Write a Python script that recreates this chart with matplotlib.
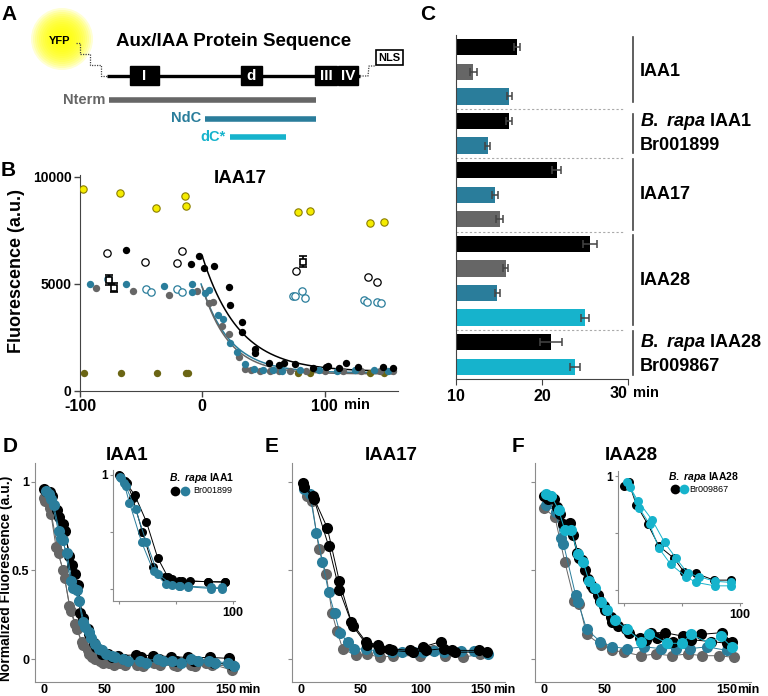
import matplotlib
matplotlib.use('Agg')
import matplotlib.pyplot as plt
from matplotlib.patches import Rectangle, Circle
import numpy as np

plt.rcParams['font.family'] = ['Liberation Sans', 'DejaVu Sans']
plt.rcParams['mathtext.fontset'] = 'custom'
plt.rcParams['mathtext.it'] = 'Liberation Sans:italic:bold'
plt.rcParams['mathtext.rm'] = 'Liberation Sans:bold'

BLACK = '#000000'
GRAY = '#666666'
TEAL = '#2a7d9b'
CYAN = '#16b3cc'
YELLOW = '#f5ec00'
OLIVE = '#6b6514'

# ---------------- panel B data (IAA17, raw fluorescence) ----------------
b_yfp_t = [-97.5, -67.5, -38, -14.5, -13, 78.4, 87.7, 137, 148.6]
b_yfp_f = [9425, 9267, 8536, 9112, 8645, 8350, 8411, 7850, 7912]
b_bg_t = [-96.7, -66.6, -37, -13.4, -12, 78, 88, 137, 148.6]
b_bg_f = [850, 850, 850, 850, 850, 860, 860, 860, 860]
b_open_k_t = [-77.6, -47, -21, -16.7, 76.2, 135.8, 143]
b_open_k_f = [6433, 6013, 5966, 6557, 5607, 5342, 5107]
b_open_c_t = [-77, -46, -42, -21, -16.7, 74, 76, 81.7, 84, 132.6, 134.8, 143, 146]
b_open_c_f = [5234, 4766, 4610, 4766, 4640, 4440, 4440, 4673, 4330, 4237, 4143, 4174, 4127]
b_sq_t = [-76, -72, 82]
b_sq_f = [5187, 4828, 6043]
b_sq_err = [250, 200, 250]
b_k_t = [-62.6, -9.3, -3, 1.4, 9.8, 21.6, 22.7, 32.8, 32.2, 43.2, 43.2, 54.4, 62.6,
         67, 76, 90.4, 101, 102.7, 111.7, 117.8, 127, 148, 156]
b_k_f = [6590, 5920, 6323, 5733, 5857, 4875, 4018, 3240, 2741, 1963, 1760, 1292, 1215,
         1292, 1247, 1060, 1137, 1182, 1060, 1292, 1137, 1110, 1060]
b_c_t = [-92, -62, -31.4, -8.5, -8.5, 2.5, 5.7, 12.6, 17.2, 23, 28, 35, 42, 50, 58,
         65, 80, 95, 110, 125, 140, 152]
b_c_f = [5000, 5000, 4906, 5000, 4640, 4563, 4720, 3551, 3350, 2228, 1838, 1262, 1050,
         980, 960, 950, 970, 960, 950, 980, 960, 950]
b_g_t = [-86.6, -57, -27.6, -4, 5.2, 8.4, 16, 21.6, 29.8, 35, 40, 47, 55, 63, 72, 85,
         100, 115, 130, 145, 156]
b_g_f = [4828, 4672, 4486, 4672, 4096, 4170, 3037, 2648, 1602, 1014, 960, 940, 930,
         950, 920, 940, 930, 920, 950, 930, 940]
# one-phase decay fits: start time, start value, plateau, tau
fit_t0 = [0, -1, 0]
fit_y0 = [6300, 5000, 4850]
fit_plateau = [900, 850, 800]
fit_tau = [30, 23.5, 22]
fit_color = [BLACK, TEAL, GRAY]

# ---------------- panel C data (half-lives, min) ----------------
c_vals = [17.05, 12.0, 16.2, 16.2, 13.7, 21.7, 14.5, 15.1, 25.6, 15.8, 14.8, 25.0, 21.05, 23.8]
c_errs = [0.35, 0.4, 0.3, 0.35, 0.3, 0.5, 0.35, 0.4, 0.8, 0.3, 0.3, 0.5, 1.3, 0.6]
c_cols = [BLACK, GRAY, TEAL, BLACK, TEAL, BLACK, TEAL, GRAY, BLACK, GRAY, TEAL, CYAN, BLACK, CYAN]
c_group_span = [(-0.42, 2.22), (2.7, 4.3), (4.55, 7.44), (7.64, 11.3), (11.53, 13.33)]
c_separators = [2.5, 4.5, 7.5, 11.5]

# ---------------- panel D (IAA1) ----------------
d_k1_t = [0, 5, 11, 16, 21, 26, 30, 36, 41, 47, 53, 61, 76, 90, 105, 119, 137, 153]
d_k1_v = [0.96, 0.94, 0.84, 0.76, 0.58, 0.48, 0.26, 0.17, 0.09, 0.05, 0.03, 0.02, 0.025, 0.02, 0.015, 0.01, 0.01, 0.005]
d_k2_t = [2, 7, 12, 17, 23, 28, 32, 37, 43, 48, 56, 66, 80, 95, 109, 124, 140, 155]
d_k2_v = [0.95, 0.92, 0.80, 0.72, 0.53, 0.42, 0.23, 0.14, 0.07, 0.03, 0.01, 0.0, 0.01, 0.0, -0.01, -0.01, -0.02, -0.03]
d_c1_t = [2, 6, 12, 16, 22, 27, 32, 37, 42, 48, 56, 65, 79, 94, 106, 121, 136, 152]
d_c1_v = [0.95, 0.90, 0.72, 0.67, 0.44, 0.39, 0.21, 0.155, 0.085, 0.05, 0.02, 0.0, -0.01, 0.0, -0.01, 0.0, -0.01, -0.02]
d_c2_t = [4, 8, 14, 19, 24, 29, 34, 39, 45, 51, 59, 69, 84, 98, 113, 127, 141, 157]
d_c2_v = [0.93, 0.87, 0.68, 0.60, 0.40, 0.33, 0.18, 0.12, 0.06, 0.03, 0.01, -0.01, -0.02, -0.01, -0.02, -0.01, -0.02, -0.04]
d_g1_t = [0, 5, 10, 16, 21, 26, 31, 36, 40, 46, 54, 63, 77, 91, 107, 121, 134, 155]
d_g1_v = [0.91, 0.85, 0.63, 0.50, 0.30, 0.20, 0.10, 0.05, 0.01, -0.01, -0.02, -0.02, -0.03, -0.02, -0.03, -0.03, -0.02, -0.06]
d_g2_t = [1, 6, 12, 17, 22, 27, 32, 37, 42, 49, 58, 67, 82, 96, 110, 125, 139, 154]
d_g2_v = [0.89, 0.82, 0.60, 0.46, 0.27, 0.17, 0.08, 0.03, 0.0, -0.02, -0.03, -0.03, -0.04, -0.03, -0.04, -0.04, -0.03, -0.04]
# inset: B. rapa IAA1
di_k1_t = [0, 5, 14, 24, 34, 43, 53, 62, 78, 93]
di_k1_v = [1.0, 0.95, 0.82, 0.59, 0.27, 0.10, 0.07, 0.065, 0.06, 0.055]
di_k2_t = [1, 7, 12, 20.5, 30, 40, 47, 55, 78, 93]
di_k2_v = [0.99, 0.93, 0.80, 0.50, 0.19, 0.10, 0.08, 0.07, 0.06, 0.06]
di_c1_t = [0.5, 4.3, 9.2, 19.8, 30.4, 41, 54, 61, 81, 91]
di_c1_v = [0.98, 0.93, 0.755, 0.41, 0.15, 0.04, 0.02, 0.02, 0.01, 0.01]
di_c2_t = [2, 6, 14.5, 24, 34.3, 47, 53, 61, 81, 91]
di_c2_v = [0.97, 0.90, 0.70, 0.41, 0.125, 0.03, 0.02, 0.015, 0.0, 0.0]

# ---------------- panel E (IAA17) ----------------
e_k1_t = [1.5, 10, 22, 32, 42, 54, 64, 73, 91, 102, 117, 126, 148]
e_k1_v = [0.99, 0.92, 0.74, 0.44, 0.21, 0.10, 0.08, 0.06, 0.05, 0.07, 0.10, 0.05, 0.05]
e_k2_t = [3, 11, 23, 32, 43, 55, 66, 76, 93, 104, 119, 128, 155]
e_k2_v = [0.97, 0.90, 0.64, 0.39, 0.19, 0.08, 0.06, 0.05, 0.04, 0.05, 0.06, 0.04, 0.04]
e_c1_t = [2.5, 7.5, 13, 18, 23, 28, 32.5, 39, 44, 54, 64, 76, 84, 94, 102, 111, 119, 133, 144, 156]
e_c1_v = [0.96, 0.93, 0.71, 0.55, 0.38, 0.26, 0.15, 0.095, 0.06, 0.056, 0.047, 0.04, 0.04, 0.04, 0.04, 0.045, 0.04, 0.045, 0.045, 0.03]
e_g1_t = [4.7, 9, 15, 21, 26, 30, 35, 46, 55, 66, 77, 99, 110, 120, 135, 149]
e_g1_v = [0.92, 0.89, 0.62, 0.48, 0.26, 0.16, 0.055, 0.024, 0.03, 0.01, 0.02, 0.02, 0.05, 0.02, 0.01, 0.03]

# ---------------- panel F (IAA28) ----------------
f_k1_t = [0, 5, 11, 16, 21, 27, 31, 36, 40, 46, 50, 56, 67, 79, 88, 99, 114, 129, 146, 154]
f_k1_v = [0.92, 0.92, 0.86, 0.76, 0.77, 0.60, 0.56, 0.45, 0.40, 0.33, 0.28, 0.21, 0.17, 0.12, 0.15, 0.15, 0.13, 0.14, 0.15, 0.10]
f_k2_t = [3, 8, 13, 19, 24, 29, 34, 39, 44, 49, 55, 61, 70, 84, 93, 106, 121, 137, 150]
f_k2_v = [0.90, 0.90, 0.82, 0.74, 0.70, 0.57, 0.50, 0.42, 0.36, 0.30, 0.24, 0.19, 0.15, 0.11, 0.12, 0.10, 0.11, 0.10, 0.09]
f_c1_t = [2, 6, 12, 17, 22, 28, 32, 37, 42, 47, 52, 58, 68, 80, 86, 101, 113, 121, 136, 145, 154]
f_c1_v = [0.93, 0.92, 0.84, 0.73, 0.73, 0.59, 0.55, 0.44, 0.40, 0.32, 0.28, 0.22, 0.17, 0.10, 0.145, 0.09, 0.09, 0.14, 0.09, 0.13, 0.07]
f_g1_t = [0, 9, 17, 25, 29, 35, 47, 56, 66, 80, 92, 105, 118, 130, 144, 156]
f_g1_v = [0.85, 0.80, 0.55, 0.33, 0.31, 0.14, 0.08, 0.05, 0.04, 0.02, 0.03, 0.02, 0.03, 0.02, 0.02, 0.01]
f_t1_t = [2, 10, 14, 16, 26, 28, 35, 46, 56, 68, 82, 96, 108, 120, 134, 150]
f_t1_v = [0.87, 0.83, 0.68, 0.65, 0.36, 0.32, 0.17, 0.10, 0.07, 0.06, 0.07, 0.06, 0.06, 0.06, 0.07, 0.05]
# inset: B. rapa IAA28
fi_k1_t = [0.3, 3.8, 10.5, 20.4, 30, 43.2, 52, 62.3, 77.8, 92.4]
fi_k1_v = [0.91, 0.95, 0.75, 0.58, 0.39, 0.28, 0.16, 0.148, 0.09, 0.09]
fi_c1_t = [2.5, 11.7, 24.2, 35, 45, 55, 65, 78.4, 92.4]
fi_c1_v = [0.95, 0.785, 0.617, 0.42, 0.28, 0.15, 0.12, 0.08, 0.07]
fi_c2_t = [5.3, 13, 22, 30, 40.2, 53.5, 62.3, 78.4, 92.4]
fi_c2_v = [0.90, 0.72, 0.58, 0.37, 0.23, 0.12, 0.07, 0.04, 0.04]

W, H = 768, 696
fig = plt.figure(figsize=(7.68, 6.96), dpi=100)


def box(l, t, r, b):
    return [l / W, 1 - b / H, (r - l) / W, (b - t) / H]


# overlay in pixel coordinates for the diagram and panel letters
ov = fig.add_axes([0, 0, 1, 1])
ov.set_xlim(0, W)
ov.set_ylim(H, 0)
ov.axis('off')

# ----- panel A diagram -----
for i in range(14):
    ov.add_patch(Circle((62, 39), 31 - 2 * i, color='#ffff00', alpha=0.17, lw=0))
ov.text(60, 41, 'YFP', ha='center', va='center', fontsize=8, fontweight='bold')
ov.text(234, 41, 'Aux/IAA Protein Sequence', ha='center', va='center',
        fontsize=13.5, fontweight='bold')
ov.plot([76, 80, 80, 90, 90, 101, 101, 107], [43, 43, 54, 54, 65, 65, 76, 76],
        ls=(0, (1, 1)), color='#444444', lw=0.9)
ov.plot([107, 360], [76, 76], color='k', lw=2.4, solid_capstyle='butt')
for x0, w, lab in [(130, 29, 'I'), (241, 21, 'd'), (315, 22, 'III'), (338, 20, 'IV')]:
    ov.add_patch(Rectangle((x0, 66), w, 19, color='k'))
    ov.text(x0 + w / 2, 76.5, lab, color='white', ha='center', va='center',
            fontsize=11, fontweight='bold')
ov.plot([360, 368, 369, 376], [76, 76, 66, 66], ls=(0, (1, 1)), color='#444444', lw=0.9)
ov.add_patch(Rectangle((376, 50), 27, 15, facecolor='white', edgecolor='k', lw=1.2))
ov.text(389.5, 58, 'NLS', ha='center', va='center', fontsize=8, fontweight='bold')
for x0, x1, y, c, lab in [(109, 316, 99.5, GRAY, 'Nterm'), (205, 316, 118.5, TEAL, 'NdC'),
                          (230, 286, 137, CYAN, 'dC*')]:
    ov.plot([x0, x1], [y, y], color=c, lw=4, solid_capstyle='butt')
    ov.text(x0 - 4, y, lab, ha='right', va='center', color=c, fontsize=10.5,
            fontweight='bold')

for x, y, lab in [(9, 14, 'A'), (8, 170, 'B'), (428, 14, 'C'), (10, 446, 'D'),
                  (272, 446, 'E'), (518, 446, 'F')]:
    ov.text(x, y, lab, ha='center', va='center', fontsize=15, fontweight='bold')

ov.text(17, 271, 'Fluorescence (a.u.)', rotation=90, ha='center', va='center',
        fontsize=13, fontweight='bold')
ov.text(6, 578, 'Normalized Fluorescence (a.u.)', rotation=90, ha='center',
        va='center', fontsize=10, fontweight='bold')

# panel titles for the decay plots
for x, lab in [(127, 'IAA1'), (391, 'IAA17'), (631, 'IAA28')]:
    ov.text(x, 455, lab, ha='center', va='center', fontsize=13.5, fontweight='bold')

# "min" unit labels beside last tick labels
ov.text(344, 405, 'min', ha='left', va='center', fontsize=10.5, fontweight='bold')
ov.text(627, 393, '30', ha='right', va='center', fontsize=11.5, fontweight='bold')
ov.text(633, 393, 'min', ha='left', va='center', fontsize=10.5, fontweight='bold')
for x in [238, 493, 737]:
    ov.text(x, 690, 'min', ha='left', va='center', fontsize=9, fontweight='bold')

# ----- panel B -----
axB = fig.add_axes(box(80, 175, 398, 391))
axB.set_facecolor('none')
axB.set_xlim(-100, 160)
axB.set_ylim(0, 10093)
ms = 28
axB.scatter(b_bg_t, b_bg_f, s=ms, color=OLIVE, lw=0, zorder=3)
axB.scatter(b_yfp_t, b_yfp_f, s=ms, facecolor=YELLOW, edgecolor='#8a7d00', lw=0.8, zorder=3)
axB.scatter(b_g_t, b_g_f, s=ms, color=GRAY, lw=0, zorder=3)
axB.scatter(b_c_t, b_c_f, s=ms, color=TEAL, lw=0, zorder=3)
axB.scatter(b_k_t, b_k_f, s=ms, color=BLACK, lw=0, zorder=3)
axB.scatter(b_open_k_t, b_open_k_f, s=ms, facecolor='white', edgecolor=BLACK, lw=0.9, zorder=3)
axB.scatter(b_open_c_t, b_open_c_f, s=ms, facecolor='white', edgecolor=TEAL, lw=0.9, zorder=3)
axB.errorbar(b_sq_t, b_sq_f, yerr=b_sq_err, fmt='s', ms=5, mfc='white', mec='k',
             mew=1.2, ecolor='k', elinewidth=1.2, capsize=3, zorder=4)
for t0, y0, pl, tau, c in zip(fit_t0, fit_y0, fit_plateau, fit_tau, fit_color):
    tt = np.linspace(t0, 156, 200)
    axB.plot(tt, pl + (y0 - pl) * np.exp(-(tt - t0) / tau), color=c, lw=1.1, zorder=2)
axB.spines['top'].set_visible(False)
axB.spines['right'].set_visible(False)
for s in ['left', 'bottom']:
    axB.spines[s].set_color('#444444')
axB.set_yticks([0, 5000, 10000])
axB.set_yticklabels(['0', '5000', '10000'], fontsize=10, fontweight='bold')
axB.set_xticks([-100, 0, 100])
axB.set_xticklabels(['-100', '0', '100'], fontsize=11.5, fontweight='bold')
axB.tick_params(length=4, width=1, color='#444444', pad=2)
axB.text(0.503, 0.985, 'IAA17', transform=axB.transAxes, ha='center', va='center',
         fontsize=13.5, fontweight='bold')

# ----- panel C -----
axC = fig.add_axes(box(456, 35, 628, 379))
axC.set_facecolor('none')
ypos = np.arange(len(c_vals))
axC.barh(ypos, c_vals, height=0.66, color=c_cols, zorder=2)
axC.errorbar(c_vals, ypos, xerr=c_errs, fmt='none', ecolor='#444444', elinewidth=1.1,
             capsize=3, capthick=1.1, zorder=3)
axC.set_xlim(10, 30)
axC.set_ylim(13.5, -0.5)
for y in c_separators:
    axC.plot([10, 29.5], [y, y], color='#aaaaaa', lw=0.8, ls=(0, (2, 2)), clip_on=False)
for y0, y1 in c_group_span:
    axC.plot([30.6, 30.6], [y0, y1], color='#444444', lw=1.2, clip_on=False)
lab_kw = dict(ha='left', va='center', fontsize=13, fontweight='bold', clip_on=False)
axC.text(31.4, 1, 'IAA1', **lab_kw)
axC.text(31.4, 3, r'$\it{B.\ rapa}$ IAA1', **lab_kw)
axC.text(31.4, 4, 'Br001899', **lab_kw)
axC.text(31.4, 6, 'IAA17', **lab_kw)
axC.text(31.4, 9.5, 'IAA28', **lab_kw)
axC.text(31.4, 12, r'$\it{B.\ rapa}$ IAA28', **lab_kw)
axC.text(31.4, 13, 'Br009867', **lab_kw)
axC.spines['top'].set_visible(False)
axC.spines['right'].set_visible(False)
for s in ['left', 'bottom']:
    axC.spines[s].set_color('#444444')
axC.set_yticks([])
axC.set_xticks([10, 20, 30])
axC.set_xticklabels(['10', '20', ''], fontsize=11.5, fontweight='bold')
axC.tick_params(axis='x', length=4, color='#444444', pad=3)


# ----- panels D, E, F -----
def style_decay(ax, show_y):
    ax.set_facecolor('none')
    ax.set_xlim(-7.4, 170)
    ax.set_ylim(-0.128, 1.105)
    ax.spines['top'].set_visible(False)
    ax.spines['right'].set_visible(False)
    for s in ['left', 'bottom']:
        ax.spines[s].set_color('#8c8c8c')
    ax.set_xticks([0, 50, 100, 150])
    ax.set_xticklabels(['0', '50', '100', '150'], fontsize=9, fontweight='bold')
    ax.set_yticks([0, 0.5, 1])
    ax.set_yticklabels(['0', '0.5', '1'] if show_y else ['', '', ''],
                       fontsize=9, fontweight='bold')
    ax.tick_params(axis='y', color='#8c8c8c', length=3, width=0.8, pad=1)
    ax.tick_params(axis='x', length=0, pad=1.5)


def style_inset(ax):
    ax.set_facecolor('white')
    ax.set_xlim(-5.3, 102)
    ax.set_ylim(-0.11, 1.044)
    ax.spines['top'].set_visible(False)
    ax.spines['right'].set_visible(False)
    for s in ['left', 'bottom']:
        ax.spines[s].set_color('#8c8c8c')
    ax.set_xticks([0, 50, 100])
    ax.set_xticklabels(['', '', '100'], fontsize=9, fontweight='bold')
    ax.set_yticks([0, 0.5, 1])
    ax.set_yticklabels(['', '', '1'], fontsize=8.5, fontweight='bold')
    ax.tick_params(color='#8c8c8c', length=2.5, width=0.8, pad=1.5)


def series(ax, t, v, c, size=8):
    ax.plot(t, v, '-o', color=c, ms=size, mew=0, lw=0.7)


axD = fig.add_axes(box(35, 463, 250, 682))
style_decay(axD, True)
for t, v, c in [(d_g1_t, d_g1_v, GRAY), (d_g2_t, d_g2_v, GRAY), (d_k1_t, d_k1_v, BLACK),
                (d_k2_t, d_k2_v, BLACK), (d_c1_t, d_c1_v, TEAL), (d_c2_t, d_c2_v, TEAL)]:
    series(axD, t, v, c)

axDi = fig.add_axes(box(113, 470, 235, 601))
style_inset(axDi)
for t, v, c in [(di_k1_t, di_k1_v, BLACK), (di_k2_t, di_k2_v, BLACK),
                (di_c1_t, di_c1_v, TEAL), (di_c2_t, di_c2_v, TEAL)]:
    series(axDi, t, v, c, size=6.5)
axDi.text(0.46, 0.94, r'$\it{B.\ rapa}$ IAA1', transform=axDi.transAxes, ha='left',
          va='center', fontsize=7.5, fontweight='bold')
axDi.plot([0.508], [0.84], 'o', color=BLACK, ms=7, mew=0, transform=axDi.transAxes)
axDi.plot([0.59], [0.84], 'o', color=TEAL, ms=7, mew=0, transform=axDi.transAxes)
axDi.text(0.655, 0.84, 'Br001899', transform=axDi.transAxes, ha='left', va='center',
          fontsize=6.5)

axE = fig.add_axes(box(292, 463, 505, 682))
style_decay(axE, False)
for t, v, c in [(e_g1_t, e_g1_v, GRAY), (e_c1_t, e_c1_v, TEAL), (e_k1_t, e_k1_v, BLACK),
                (e_k2_t, e_k2_v, BLACK)]:
    series(axE, t, v, c)

axF = fig.add_axes(box(535, 463, 751, 682))
style_decay(axF, False)
for t, v, c in [(f_g1_t, f_g1_v, GRAY), (f_t1_t, f_t1_v, TEAL), (f_k1_t, f_k1_v, BLACK),
                (f_k2_t, f_k2_v, BLACK), (f_c1_t, f_c1_v, CYAN)]:
    series(axF, t, v, c)

axFi = fig.add_axes(box(618, 471, 742, 603))
style_inset(axFi)
for t, v, c in [(fi_k1_t, fi_k1_v, BLACK), (fi_c1_t, fi_c1_v, CYAN), (fi_c2_t, fi_c2_v, CYAN)]:
    series(axFi, t, v, c, size=6.5)
axFi.text(0.40, 0.955, r'$\it{B.\ rapa}$ IAA28', transform=axFi.transAxes, ha='left',
          va='center', fontsize=7.5, fontweight='bold')
axFi.plot([0.46], [0.86], 'o', color=BLACK, ms=7, mew=0, transform=axFi.transAxes)
axFi.plot([0.532], [0.86], 'o', color=CYAN, ms=7, mew=0, transform=axFi.transAxes)
axFi.text(0.573, 0.86, 'Br009867', transform=axFi.transAxes, ha='left', va='center',
          fontsize=6.5)

fig.savefig('out.png', dpi=100)
